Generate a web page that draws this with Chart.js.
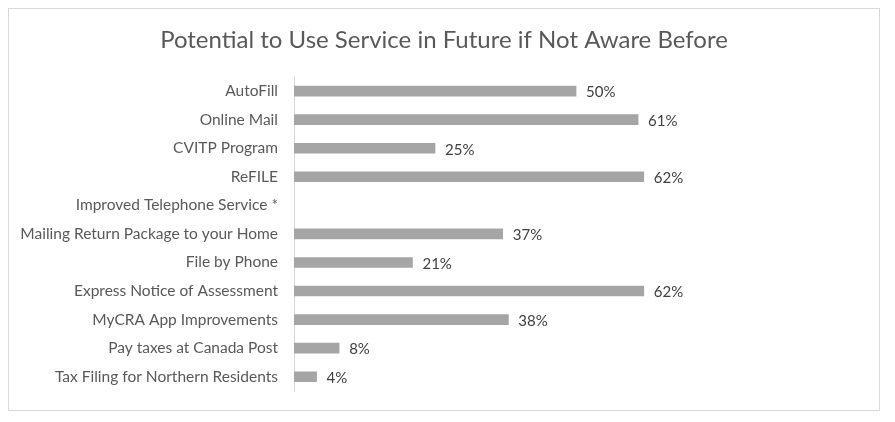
<!DOCTYPE html>
<html lang="en">
<head>
    <meta charset="UTF-8">
    <title>Potential to Use Service in Future if Not Aware Before</title>
    <script src="https://cdn.jsdelivr.net/npm/chart.js"></script>
    <style>
        body { margin: 0; background: #ffffff; }
        #box {
            position: absolute; left: 8px; top: 8px;
            width: 870px; height: 401px;
            border: 1px solid #d9d9d9;
        }
    </style>
</head>
<body>
    <div id="box"><canvas id="chart"></canvas></div>
    <script>
        const services = [
            'AutoFill',
            'Online Mail',
            'CVITP Program',
            'ReFILE',
            'Improved Telephone Service *',
            'Mailing Return Package to your Home',
            'File by Phone',
            'Express Notice of Assessment',
            'MyCRA App Improvements',
            'Pay taxes at Canada Post',
            'Tax Filing for Northern Residents'
        ];
        const potential = [50, 61, 25, 62, null, 37, 21, 62, 38, 8, 4];

        const FONT = 'Lato, "Open Sans", sans-serif';

        // writes "50%" etc. just past the end of each bar
        const valueLabels = {
            id: 'valueLabels',
            afterDatasetsDraw(chart)
            {
                const ctx = chart.ctx;
                const meta = chart.getDatasetMeta(0);
                ctx.save();
                ctx.font = '15px ' + FONT;
                ctx.fillStyle = '#404040';
                ctx.textAlign = 'left';
                ctx.textBaseline = 'middle';
                meta.data.forEach((bar, i) =>
                {
                    const v = potential[i];
                    if (v === null) return;
                    ctx.fillText(v + '%', bar.x + 10, bar.y + 1.5);
                });
                ctx.restore();
            }
        };

        new Chart(document.getElementById('chart'),
        {
            type: 'bar',
            data:
            {
                labels: services,
                datasets:
                [{
                    data: potential,
                    backgroundColor: '#a5a5a5',
                    barThickness: 10
                }]
            },
            options:
            {
                indexAxis: 'y',
                responsive: true,
                maintainAspectRatio: false,
                animation: false,
                layout: { padding: { left: 0, right: 0, top: 0, bottom: 19 } },
                plugins:
                {
                    legend: { display: false },
                    tooltip: { enabled: false },
                    title:
                    {
                        display: true,
                        text: 'Potential to Use Service in Future if Not Aware Before',
                        color: '#595959',
                        font: { family: FONT, size: 24, weight: 'normal' },
                        padding: { top: 17, bottom: 22 }
                    }
                },
                scales:
                {
                    x:
                    {
                        display: false,
                        min: 0,
                        max: 103.7
                    },
                    y:
                    {
                        afterFit(scale) { scale.width = 285; },
                        grid:
                        {
                            display: true,
                            drawOnChartArea: false,
                            drawTicks: true,
                            tickLength: 16,
                            tickColor: 'rgba(0,0,0,0)'
                        },
                        border: { display: true, color: '#d9d9d9' },
                        ticks:
                        {
                            color: '#595959',
                            padding: 0,
                            font: { family: FONT, size: 15.5 }
                        }
                    }
                }
            },
            plugins: [valueLabels]
        });
    </script>
</body>
</html>
